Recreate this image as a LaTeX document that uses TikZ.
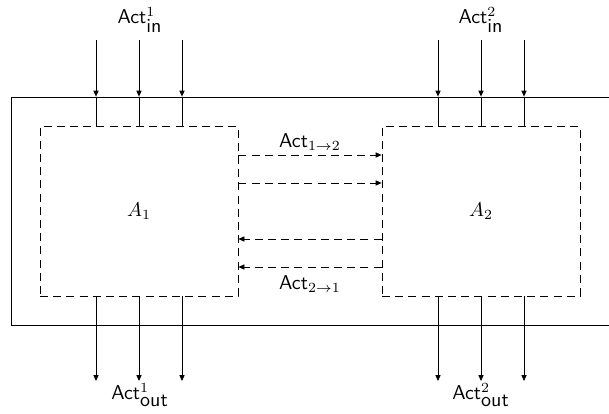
\documentclass[tikz,border=0pt]{standalone}
\usetikzlibrary{arrows.meta}
\begin{document}
\begin{tikzpicture}[x=0.5pt,y=-0.5pt,
  box/.style={draw,dash pattern=on 4pt off 2.6pt,minimum width=99pt,minimum height=85pt,inner sep=0pt},
  frame/.style={draw,minimum width=302pt,minimum height=114pt,inner sep=0pt},
  tip/.style={-{Triangle[length=3pt,width=2.6pt]}},
  flow/.style={tip,dash pattern=on 4pt off 2.6pt},
  lbl/.style={inner sep=0pt}]
\useasboundingbox (0,0) rectangle (609,413);
% outer frame (its right edge runs past the page)
\node[frame] (outer) at (313,211) {};
% the two agents
\node[box] (A1) at (139,211) {$A_1$};
\node[box] (A2) at (481,211) {$A_2$};
% inputs and outputs of each agent
\foreach \b/\i in {A1/1,A2/2}{
  \foreach \dx/\k in {-43/a,0/b,43/c}{
    \coordinate (in\i\k) at ([xshift=\dx*0.5pt]\b.north |- 0,40);
    \coordinate (out\i\k) at ([xshift=\dx*0.5pt]\b.south |- 0,381);
    \draw[tip] (in\i\k) -- (in\i\k |- outer.north);
    \draw (in\i\k |- outer.north) -- (in\i\k |- \b.north);
    \draw[tip] (in\i\k |- \b.south) -- (out\i\k);
  }
}
\node[lbl] (lin1) at (140,20) {\textsf{Act}$^1_{\textsf{in}}$};
\node[lbl] (lin2) at (481,20) {\textsf{Act}$^2_{\textsf{in}}$};
\node[lbl] (lout1) at (140,395) {\textsf{Act}$^1_{\textsf{out}}$};
\node[lbl] (lout2) at (481,395) {\textsf{Act}$^2_{\textsf{out}}$};
% messages between the agents
\foreach \y in {155,183}
  \draw[flow] (A1.east |- 0,\y) -- (A2.west |- 0,\y);
\foreach \y in {239,267}
  \draw[flow] (A2.west |- 0,\y) -- (A1.east |- 0,\y);
\node[lbl] (l12) at (310,142) {\textsf{Act}$_{1\to2}$};
\node[lbl] (l21) at (310,284) {\textsf{Act}$_{2\to1}$};
\end{tikzpicture}
\end{document}
